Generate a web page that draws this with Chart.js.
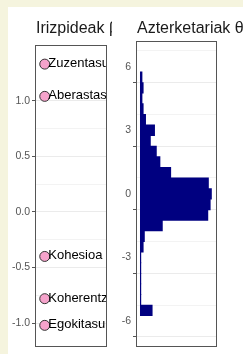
<!DOCTYPE html>
<html>
<head>
<meta charset="utf-8">
<script src="https://cdn.jsdelivr.net/npm/chart.js@4.4.1/dist/chart.umd.min.js"></script>
<style>
  html, body { margin: 0; padding: 0; background: #f5f4de; }
  #wrap { position: absolute; left: 8px; top: 7px; width: 235px; height: 347px; background: #fff; }
  canvas { position: absolute; top: 0; }
  #beta { left: 0; }
  #theta { left: 104px; }
</style>
</head>
<body>
<div id="wrap">
  <canvas id="beta" width="104" height="347"></canvas>
  <canvas id="theta" width="131" height="347"></canvas>
</div>
<script>
// criteria (items) and their beta estimates
const criteria = ['Zuzentasuna', 'Aberastasuna', 'Kohesioa', 'Koherentzia', 'Egokitasuna'];
const criteriaBeta = [1.33, 1.04, -0.40, -0.78, -1.02];
const betaTicks = [-1.0, -0.5, 0.0, 0.5, 1.0];

// rater theta histogram (bin centres, counts)
const thetaBins = [5.5, 5.0, 4.5, 4.0, 3.5, 3.0, 2.5, 2.0, 1.5, 1.0, 0.5, 0.0,
                   -0.5, -1.0, -1.5, -2.0, -2.5, -3.0, -3.5, -4.0, -4.5, -5.0, -5.5];
const thetaCounts = [2, 3, 2, 3, 5, 12.5, 9, 14, 17, 26, 57.5, 60,
                     59, 57, 19, 4, 3, 1, 1, 1, 1, 1, 10.5];
const thetaTicks = [-6, -3, 0, 3, 6];

const titles = { beta: 'Irizpideak β', theta: 'Azterketariak θ' };

// major ticks plus the minor grid lines between them
function withMinor(ticks) {
  const out = [];
  for (let i = 0; i < ticks.length; i++) {
    out.push(ticks[i]);
    if (i < ticks.length - 1) out.push((ticks[i] + ticks[i + 1]) / 2);
  }
  return out;
}
function isMajor(v, ticks) {
  return ticks.some(t => Math.abs(t - v) < 1e-6);
}

const panelPlugin = {
  id: 'panel',
  afterDraw(chart, args, opts) {
    const ctx = chart.ctx;
    const a = chart.chartArea;
    ctx.save();
    // panel border
    ctx.strokeStyle = '#555';
    ctx.lineWidth = 1;
    ctx.strokeRect(Math.round(a.left) - 0.5, Math.round(a.top) - 0.5,
                   Math.round(a.right - a.left) + 1, Math.round(a.bottom - a.top) + 1);
    // title, left aligned to the panel
    ctx.fillStyle = '#1a1a1a';
    ctx.font = '16px "Liberation Sans", Arial, sans-serif';
    ctx.textBaseline = 'alphabetic';
    ctx.textAlign = 'left';
    ctx.fillText(opts.text, a.left, 26);
    ctx.restore();
  }
};

const labelPlugin = {
  id: 'pointLabels',
  afterDatasetsDraw(chart) {
    const ctx = chart.ctx;
    const a = chart.chartArea;
    const meta = chart.getDatasetMeta(0);
    ctx.save();
    ctx.beginPath();
    ctx.rect(a.left, a.top, a.right - a.left, a.bottom - a.top);
    ctx.clip();
    ctx.fillStyle = '#000';
    ctx.font = '13px "Liberation Sans", Arial, sans-serif';
    ctx.textAlign = 'left';
    ctx.textBaseline = 'alphabetic';
    meta.data.forEach((pt, i) => {
      ctx.fillText(criteria[i], pt.x + 3.5, pt.y + 3);
    });
    ctx.restore();
  }
};

function yAxis(min, max, ticks, fmt) {
  const all = withMinor(ticks);
  const major = c => c.tick && isMajor(c.tick.value, ticks);
  return {
    type: 'linear',
    min: min,
    max: max,
    afterBuildTicks: s => { s.ticks = all.map(v => ({ value: v })); },
    afterFit: s => { s.width = 24; },
    border: { display: false },
    grid: {
      color: c => major(c) ? '#ebebeb' : '#f3f3f3',
      lineWidth: 1,
      tickLength: 4,
      tickColor: c => major(c) ? '#555' : 'rgba(0,0,0,0)'
    },
    ticks: {
      padding: 2,
      color: '#555',
      font: { size: 10.5, family: '"Liberation Sans", Arial, sans-serif' },
      callback: v => isMajor(v, ticks) ? fmt(v) : ''
    }
  };
}

new Chart(document.getElementById('beta'), {
  type: 'scatter',
  data: {
    datasets: [{
      data: criteriaBeta.map(b => ({ x: 0, y: b })),
      pointRadius: 5,
      pointBackgroundColor: '#f5a3cb',
      pointBorderColor: '#333',
      pointBorderWidth: 1
    }]
  },
  options: {
    responsive: false,
    animation: false,
    layout: { padding: { left: 4, right: 4, top: 39, bottom: 2 } },
    plugins: { legend: { display: false }, tooltip: { enabled: false }, panel: { text: titles.beta } },
    scales: {
      x: { type: 'linear', min: -1, max: 7, display: false },
      y: yAxis(-1.203, 1.493, betaTicks, v => v.toFixed(1))
    }
  },
  plugins: [panelPlugin, labelPlugin]
});

new Chart(document.getElementById('theta'), {
  type: 'bar',
  data: {
    datasets: [{
      data: thetaBins.map((b, i) => ({ x: thetaCounts[i], y: b })),
      backgroundColor: '#000080',
      borderWidth: 0,
      barPercentage: 1.08,
      categoryPercentage: 1
    }]
  },
  options: {
    responsive: false,
    animation: false,
    indexAxis: 'y',
    layout: { padding: { left: 1, right: 27, top: 35, bottom: 2 } },
    plugins: { legend: { display: false }, tooltip: { enabled: false }, panel: { text: titles.theta } },
    scales: {
      x: { type: 'linear', min: -2.5, max: 63.5, display: false },
      y: yAxis(-6.37, 6.37, thetaTicks, v => String(v))
    }
  },
  plugins: [panelPlugin]
});
</script>
</body>
</html>
